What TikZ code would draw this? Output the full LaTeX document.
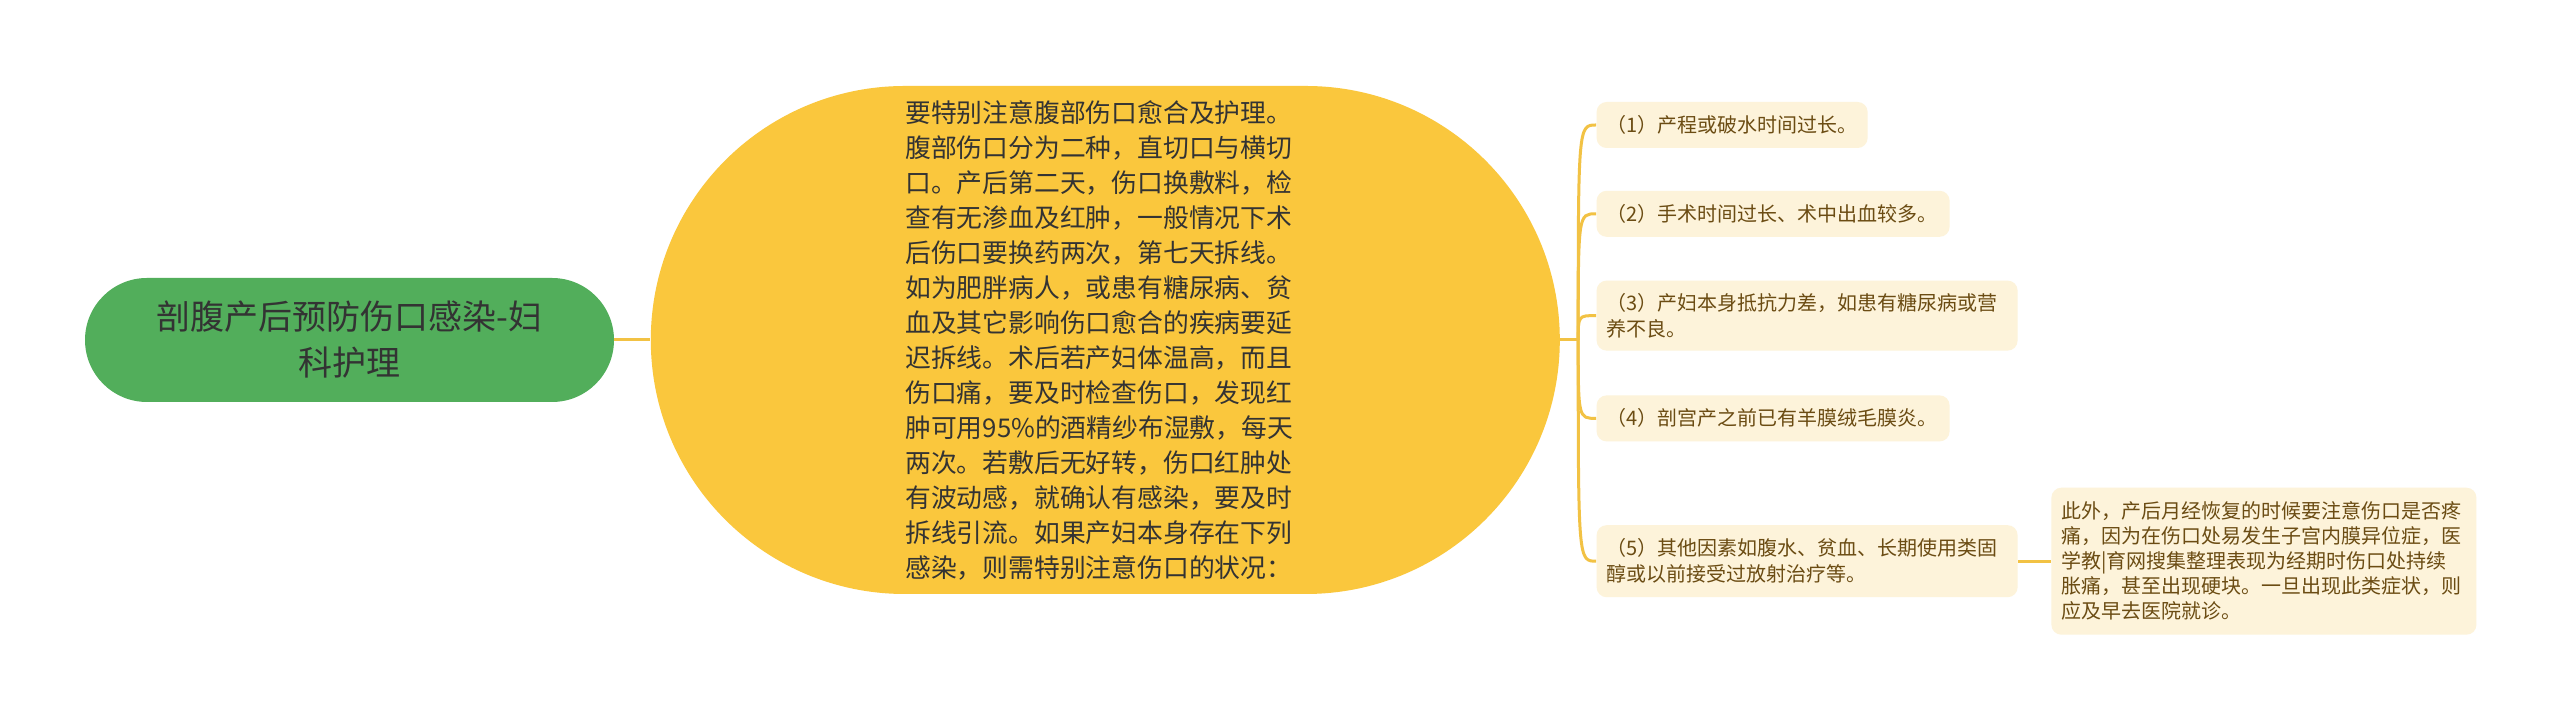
\documentclass[tikz,border=0pt]{standalone}
\usepackage{fontspec}
\usepackage{xcolor}
\usetikzlibrary{positioning}
\newfontfamily\zhfont{Noto Sans CJK SC}
\definecolor{rootgreen}{HTML}{52AE5B}
\definecolor{mainyellow}{HTML}{FAC73D}
\definecolor{leafcream}{HTML}{FDF3DA}
\definecolor{leaftext}{HTML}{6B4C13}
\definecolor{linkline}{HTML}{F2C244}
\definecolor{darktext}{HTML}{333333}

\begin{document}
\begin{tikzpicture}[node distance=18pt,
		link/.style={draw=linkline,line width=1.5pt},
		branch/.style={to path={.. controls (\tikztostart |- \tikztotarget) .. (\tikztotarget)}},
		topic/.style={fill=rootgreen,text=darktext,rounded corners=31pt,minimum width=264.5pt,minimum height=62pt,align=center,font=\zhfont\fontsize{17pt}{23pt}\selectfont},
		mainidea/.style={fill=mainyellow,text=darktext,rounded corners=127pt,minimum width=454.5pt,minimum height=254pt,text width=200pt,align=left,font=\zhfont\fontsize{12.9pt}{17.5pt}\selectfont},
		leaf/.style={fill=leafcream,text=leaftext,rounded corners=5pt,inner xsep=5pt,inner ysep=2pt,minimum height=23pt,align=left,font=\zhfont\fontsize{10pt}{13pt}\selectfont}]
		\path[use as bounding box,fill=white] (0,0) rectangle (1280pt,358pt);
		
		\node[topic]		(root)	at (174.75pt,188pt)								{剖腹产后预防伤口感染-妇\\科护理};
		\node[mainidea]		(main)	[right=of root]									{要特别注意腹部伤口愈合及护理。\\腹部伤口分为二种，直切口与横切\\口。产后第二天，伤口换敷料，检\\查有无渗血及红肿，一般情况下术\\后伤口要换药两次，第七天拆线。\\如为肥胖病人，或患有糖尿病、贫\\血及其它影响伤口愈合的疾病要延\\迟拆线。术后若产妇体温高，而且\\伤口痛，要及时检查伤口，发现红\\肿可用95\%的酒精纱布湿敷，每天\\两次。若敷后无好转，伤口红肿处\\有波动感，就确认有感染，要及时\\拆线引流。如果产妇本身存在下列\\感染，则需特别注意伤口的状况：};
		\coordinate[right=9pt of main.east]	(fork);
		
		\node[leaf,text width=125.5pt]						(c1)	[above right=107.5pt and 18pt of main.east,anchor=west]	{（1）产程或破水时间过长。};
		\node[leaf,text width=166.5pt]						(c2)	[below=21pt of c1.south west,anchor=north west]		{（2）手术时间过长、术中出血较多。};
		\node[leaf,text width=200.5pt,minimum height=35pt]	(c3)	[below=21.5pt of c2.south west,anchor=north west]		{（3）产妇本身抵抗力差，如患有糖尿病或营\\养不良。};
		\node[leaf,text width=166.5pt]						(c4)	[below=22pt of c3.south west,anchor=north west]		{（4）剖宫产之前已有羊膜绒毛膜炎。};
		\node[leaf,text width=200.5pt,minimum height=36pt]	(c5)	[below=41.5pt of c4.south west,anchor=north west]		{（5）其他因素如腹水、贫血、长期使用类固\\醇或以前接受过放射治疗等。};
		
		\node[leaf,text width=202.5pt,minimum height=73.5pt,font=\zhfont\fontsize{10pt}{12.5pt}\selectfont]	(d5)	[right=16.5pt of c5]	{此外，产后月经恢复的时候要注意伤口是否疼\\痛，因为在伤口处易发生子宫内膜异位症，医\\学教|育网搜集整理表现为经期时伤口处持续\\胀痛，甚至出现硬块。一旦出现此类症状，则\\应及早去医院就诊。};
		
		\path[link]	(root)		edge				(main)
					(main.east)	edge				(fork)
					(fork)		edge	[branch]	(c1.west)
								edge	[branch]	(c2.west)
								edge	[branch]	(c3.west)
								edge	[branch]	(c4.west)
								edge	[branch]	(c5.west)
					(c5)		edge				(d5);
	\end{tikzpicture}
\end{document}
